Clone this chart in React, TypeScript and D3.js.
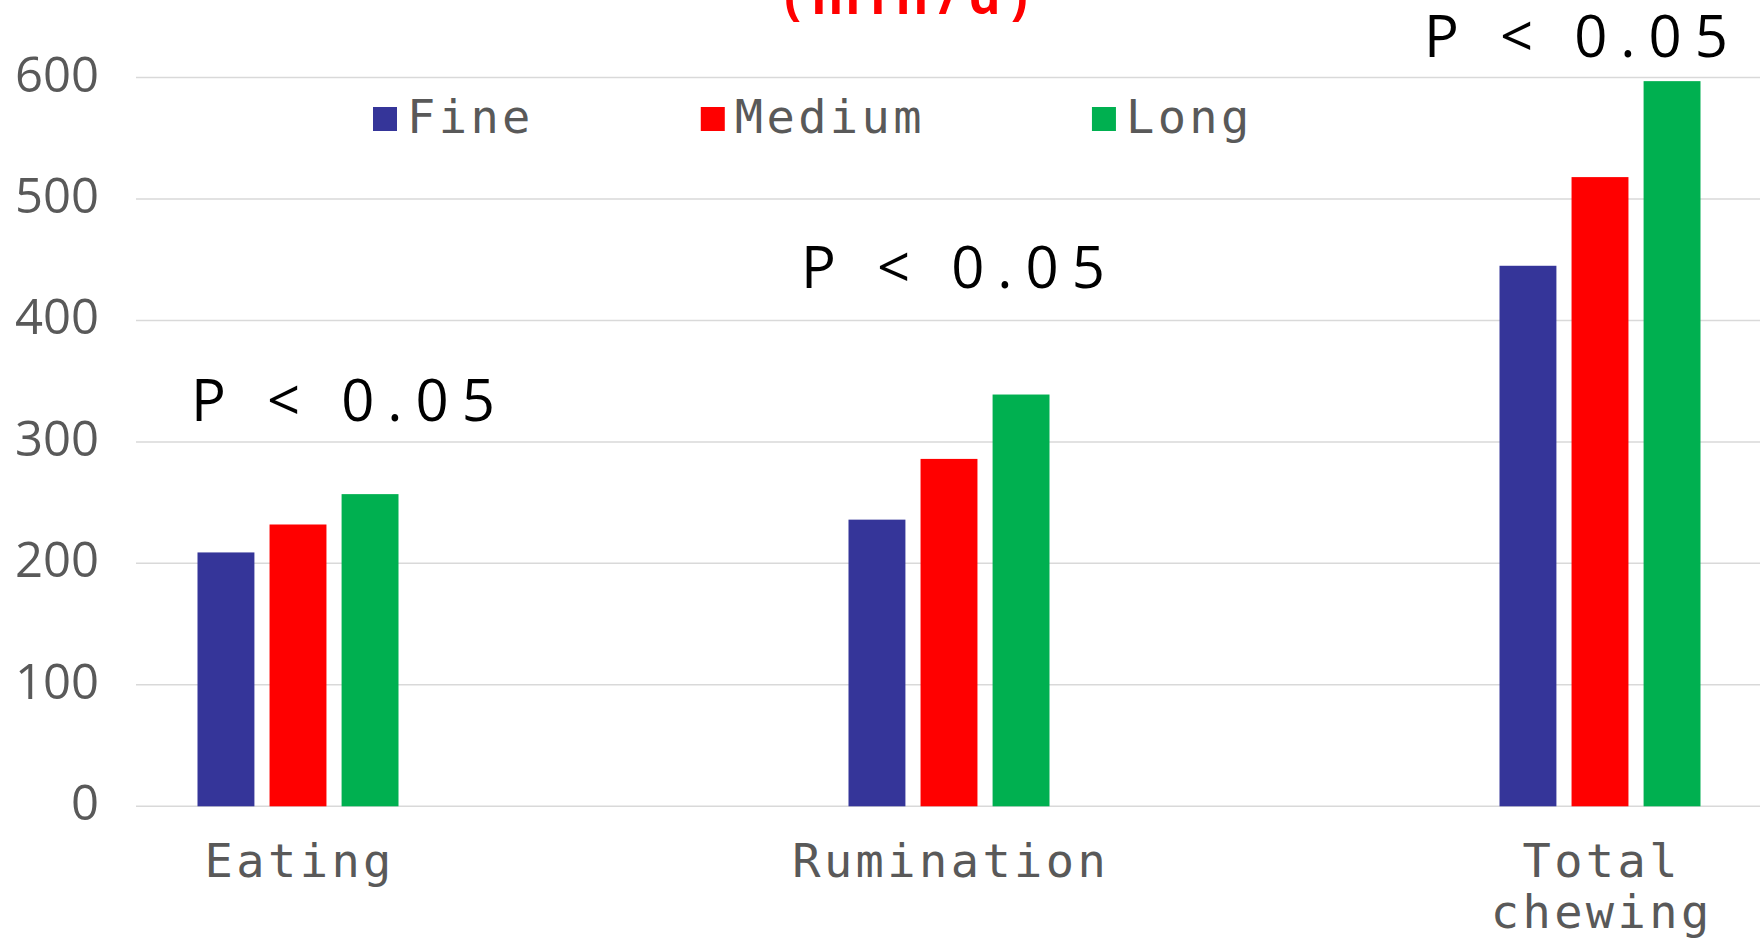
import * as d3 from 'd3';

const categories = ['Eating', 'Rumination', 'Total chewing'];
const seriesNames = ['Fine', 'Medium', 'Long'];
const seriesColors = ['#353599', '#ff0000', '#00b050'];
const fineValues = [209, 236, 445];
const mediumValues = [232, 286, 518];
const longValues = [257, 339, 597];
const yTicks = [0, 100, 200, 300, 400, 500, 600];
const pLabels = ['P < 0.05', 'P < 0.05', 'P < 0.05'];
const pLevels = [317, 427, 617];

const W = 1763;
const H = 939;
const MONO = '"DejaVu Sans Mono", monospace';
const SANS = '"Open Sans", sans-serif';
const MONO_SIZE = 47;
const MONO_LS = 3.4;
const CHAR_W = MONO_SIZE * 0.602 + MONO_LS;

export default function App() {
  const y = d3.scaleLinear().domain([0, 600]).range([806.3, 77.5]);
  const x0 = d3.scalePoint<string>().domain(categories).range([298, 1600]);
  const x1 = d3.scaleBand<string>().domain(seriesNames).range([-100.5, 100.5]).paddingInner(0.21);

  const seriesValues = [fineValues, mediumValues, longValues];
  const pOffsets = [-107, -148, -176];

  // legend laid out from text widths
  let lx = 373;
  const legendItems = seriesNames.map((name, i) => {
    const item = { name, color: seriesColors[i], x: lx };
    lx += 34 + name.length * CHAR_W + 167;
    return item;
  });

  return (
    <svg width={W} height={H} style={{ position: 'fixed', left: 0, top: 0, background: '#fff' }}>
      {/* title, cut off at the top */}
      <text x={911} y={14} textAnchor="middle" fill="#ff0000" fontFamily={SANS}
        fontWeight={700} fontSize={50} letterSpacing={10}>(min/d)</text>

      {/* gridlines and y labels */}
      {yTicks.map(t => (
        <g key={t}>
          <line x1={136} x2={1760} y1={y(t)} y2={y(t)} stroke="#d9d9d9" strokeWidth={1.5} />
          <text x={99} y={y(t) + 14} textAnchor="end" fill="#595959" fontFamily={SANS} fontSize={49}>{t}</text>
        </g>
      ))}

      {/* bars */}
      {categories.map((c, ci) => (
        <g key={c} transform={`translate(${x0(c)},0)`}>
          {seriesNames.map((s, si) => (
            <rect key={s} x={x1(s)} width={x1.bandwidth()} y={y(seriesValues[si][ci])}
              height={y(0) - y(seriesValues[si][ci])} fill={seriesColors[si]} />
          ))}
        </g>
      ))}

      {/* category labels */}
      {categories.map(c => {
        const lines = c === 'Total chewing' ? ['Total', 'chewing'] : [c];
        const cx = (x0(c) ?? 0) + MONO_LS / 2;
        return (
          <text key={c} x={cx} y={877} textAnchor="middle" fill="#595959"
            fontFamily={MONO} fontSize={MONO_SIZE} letterSpacing={MONO_LS}>
            {lines.map((l, i) => (
              <tspan key={l} x={cx} dy={i === 0 ? 0 : 51}>{l}</tspan>
            ))}
          </text>
        );
      })}

      {/* significance labels */}
      {categories.map((c, ci) => (
        <text key={c} x={(x0(c) ?? 0) + pOffsets[ci]} y={y(pLevels[ci])} fill="#000"
          fontFamily={SANS} fontSize={58} letterSpacing={13}>{pLabels[ci]}</text>
      ))}

      {/* legend */}
      {legendItems.map(d => (
        <g key={d.name}>
          <rect x={d.x} y={107} width={24} height={24} fill={d.color} />
          <text x={d.x + 34} y={133} fill="#595959" fontFamily={MONO} fontSize={MONO_SIZE}
            letterSpacing={MONO_LS}>{d.name}</text>
        </g>
      ))}
    </svg>
  );
}
